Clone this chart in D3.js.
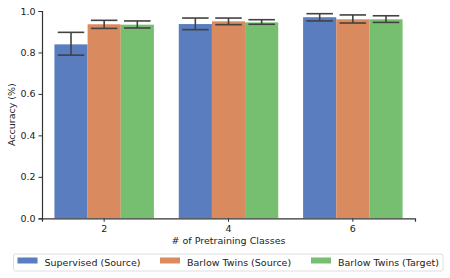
<!DOCTYPE html>
<html>
<head>
<meta charset="utf-8">
<script src="https://cdn.jsdelivr.net/npm/d3@7"></script>
<style>
  body { margin: 0; background: #fff; }
  text { font-family: "DejaVu Sans", sans-serif; fill: #222; }
</style>
</head>
<body>
<div id="chart"></div>
<script>
// donnees
var categories = ["2", "4", "6"];
var seriesNames = ["Supervised (Source)", "Barlow Twins (Source)", "Barlow Twins (Target)"];
var means = [
  [0.839, 0.937, 0.970],
  [0.936, 0.950, 0.960],
  [0.934, 0.945, 0.960]
];
var errLow = [
  [0.787, 0.910, 0.952],
  [0.916, 0.934, 0.942],
  [0.918, 0.936, 0.945]
];
var errHigh = [
  [0.897, 0.966, 0.987],
  [0.955, 0.966, 0.981],
  [0.952, 0.958, 0.977]
];
var yTicks = [0.0, 0.2, 0.4, 0.6, 0.8, 1.0];
var colors = ["#597dbf", "#d98b5f", "#76bf71"];

var W = 450, H = 278;
var margin = { top: 11, right: 35, bottom: 60, left: 42 };

var svg = d3.select("#chart").append("svg")
  .attr("width", W)
  .attr("height", H);

var x = d3.scaleBand()
  .domain(categories)
  .range([margin.left, 415])
  .padding(0);

var inner = d3.scaleBand()
  .domain(d3.range(seriesNames.length))
  .range([0, x.bandwidth() * 0.8]);

var y = d3.scaleLinear()
  .domain([0, 1])
  .range([218.3, margin.top]);

// barres
var rows = [];
seriesNames.forEach(function(s, i) {
  categories.forEach(function(c, j) {
    rows.push({ s: i, c: c, v: means[i][j], lo: errLow[i][j], hi: errHigh[i][j] });
  });
});

var offset = x.bandwidth() * 0.1;

svg.append("g").selectAll("rect")
  .data(rows)
  .enter()
  .append("rect")
    .attr("x", d => x(d.c) + offset + inner(d.s))
    .attr("width", inner.bandwidth())
    .attr("y", d => y(d.v))
    .attr("height", d => y(0) - y(d.v))
    .attr("fill", d => colors[d.s]);

// barres d'erreur
var capW = inner.bandwidth() * 0.8;
var eg = svg.append("g")
  .attr("stroke", "#424242")
  .attr("stroke-width", 1.6)
  .attr("fill", "none");

rows.forEach(function(d) {
  var cx = x(d.c) + offset + inner(d.s) + inner.bandwidth() / 2;
  eg.append("line").attr("x1", cx).attr("x2", cx).attr("y1", y(d.lo)).attr("y2", y(d.hi));
  eg.append("line").attr("x1", cx - capW / 2).attr("x2", cx + capW / 2).attr("y1", y(d.lo)).attr("y2", y(d.lo));
  eg.append("line").attr("x1", cx - capW / 2).attr("x2", cx + capW / 2).attr("y1", y(d.hi)).attr("y2", y(d.hi));
});

// axes
var yAxis = svg.append("g")
  .attr("transform", "translate(" + margin.left + ",0)")
  .call(d3.axisLeft(y).tickValues(yTicks).tickFormat(d3.format(".1f")).tickSizeOuter(0).tickSize(3.5).tickPadding(3));

var xAxis = svg.append("g")
  .attr("transform", "translate(0," + y(0) + ")")
  .call(d3.axisBottom(x).tickSizeOuter(0).tickSize(3.5).tickPadding(3));

[xAxis, yAxis].forEach(function(a) {
  a.selectAll("path, line").attr("stroke", "#333").attr("stroke-width", 1);
  a.selectAll("text").style("font-size", "9.5px").attr("fill", "#222");
  a.select(".domain").attr("stroke-width", 1.2);
});

svg.append("text")
  .attr("x", (margin.left + 415) / 2)
  .attr("y", 244.3)
  .attr("text-anchor", "middle")
  .style("font-size", "9.5px")
  .text("# of Pretraining Classes");

svg.append("text")
  .attr("transform", "translate(15," + (y(0) + y(1)) / 2 + ") rotate(-90)")
  .attr("text-anchor", "middle")
  .style("font-size", "9.5px")
  .text("Accuracy (%)");

// legende
var leg = svg.append("g");
leg.append("rect")
  .attr("x", 13.5).attr("y", 254)
  .attr("width", 429.5).attr("height", 17)
  .attr("rx", 2)
  .attr("fill", "#fff")
  .attr("stroke", "#d6d6d6")
  .attr("stroke-width", 0.8);

var legX = [17.5, 160, 311];
seriesNames.forEach(function(s, i) {
  leg.append("rect")
    .attr("x", legX[i]).attr("y", 257.5)
    .attr("width", 20).attr("height", 6)
    .attr("fill", colors[i]);
  leg.append("text")
    .attr("x", legX[i] + 27)
    .attr("y", 266)
    .style("font-size", "9.5px")
    .text(s);
});
</script>
</body>
</html>
